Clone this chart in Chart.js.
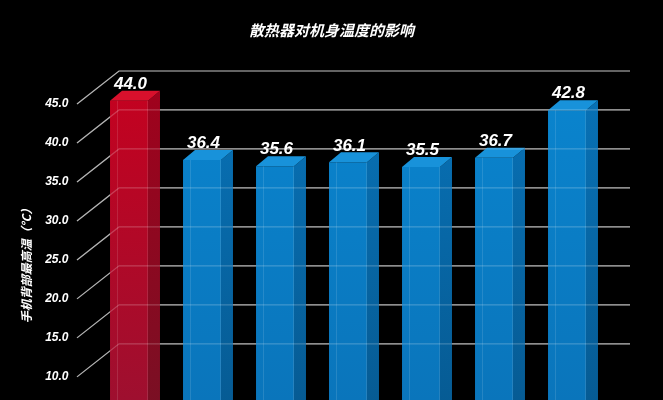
<!DOCTYPE html>
<html>
<head>
<meta charset="utf-8">
<script src="https://cdn.jsdelivr.net/npm/chart.js@4.4.0/dist/chart.umd.min.js"></script>
<style>
  html, body { margin: 0; padding: 0; background: #000; overflow: hidden; }
  #wrap { width: 663px; height: 400px; overflow: hidden; }
  canvas { display: block; }
</style>
</head>
<body>
<div id="wrap"><canvas id="chart" width="663" height="503"></canvas></div>
<script>
// values
const categories = ["无散热器", "散热器A", "散热器B", "散热器C", "散热器D", "散热器E", "散热器F"];
const temps = [44.0, 36.4, 35.6, 36.1, 35.5, 36.7, 42.8];
const barTone = ["red", "blue", "blue", "blue", "blue", "blue", "blue"];
const yTicks = [10, 15, 20, 25, 30, 35, 40, 45];

// 3d look
const DX = 12, DY = 10;        // bar depth
const BACK = 22;               // back wall sits this far above the bar scale
const FRONT = 11;              // tick labels sit this far below it

const tones = {
  red:  { top: "#d8102c", front: ["#c8001e", "#9c1030"], side: ["#a4001c", "#781024"] },
  blue: { top: "#1892da", front: ["#0a86d0", "#0a74ba"], side: ["#0874ba", "#065a92"] }
};

function vGrad(ctx, stops) {
  const g = ctx.createLinearGradient(0, 54, 0, 420);
  g.addColorStop(0, stops[0]);
  g.addColorStop(1, stops[1]);
  return g;
}

function gridPath(ctx, y) {
  yTicks.forEach(v => {
    const py = y.getPixelForValue(v);
    ctx.beginPath();
    ctx.moveTo(77, py + FRONT);
    ctx.lineTo(119, py - BACK);
    ctx.lineTo(630, py - BACK);
    ctx.stroke();
  });
}

const depth3d = {
  id: "depth3d",
  beforeDatasetsDraw(chart) {
    const { ctx, scales: { y } } = chart;
    ctx.save();
    ctx.strokeStyle = "#a0a0a0";
    ctx.lineWidth = 1.2;
    gridPath(ctx, y);
    ctx.restore();
  },
  afterDatasetsDraw(chart) {
    const { ctx, scales: { y } } = chart;
    const meta = chart.getDatasetMeta(0);
    ctx.save();
    meta.data.forEach((bar, i) => {
      const t = tones[barTone[i]];
      const left = bar.x - bar.width / 2, right = bar.x + bar.width / 2;
      const top = bar.y, bottom = bar.base;

      // side face
      ctx.fillStyle = vGrad(ctx, t.side);
      ctx.beginPath();
      ctx.moveTo(right, top);
      ctx.lineTo(right + DX, top - DY);
      ctx.lineTo(right + DX, bottom);
      ctx.lineTo(right, bottom);
      ctx.closePath();
      ctx.fill();

      // top face
      ctx.fillStyle = t.top;
      ctx.beginPath();
      ctx.moveTo(left, top);
      ctx.lineTo(left + DX, top - DY);
      ctx.lineTo(right + DX, top - DY);
      ctx.lineTo(right, top);
      ctx.closePath();
      ctx.fill();

      // faint edges
      ctx.strokeStyle = "rgba(255,255,255,0.12)";
      ctx.lineWidth = 1;
      ctx.beginPath();
      ctx.moveTo(left + 7.5, top);
      ctx.lineTo(left + 7.5, bottom);
      ctx.moveTo(right - 0.5, top);
      ctx.lineTo(right - 0.5, bottom);
      ctx.stroke();
    });

    // grid shows faintly through the bars
    ctx.strokeStyle = "rgba(255,255,255,0.22)";
    ctx.lineWidth = 1.2;
    gridPath(ctx, y);

    // value labels
    ctx.fillStyle = "#fff";
    ctx.font = "italic bold 17px 'Liberation Sans', Arial, sans-serif";
    ctx.textAlign = "center";
    ctx.textBaseline = "middle";
    meta.data.forEach((bar, i) => {
      ctx.fillText(temps[i].toFixed(1), bar.x + 1.5, bar.y - 16.5);
    });
    ctx.restore();
  }
};

const ctx = document.getElementById("chart").getContext("2d");
new Chart(ctx, {
  type: "bar",
  data: {
    labels: categories,
    datasets: [{
      data: temps,
      backgroundColor: (c) => vGrad(c.chart.ctx, tones[barTone[c.dataIndex]].front),
      borderWidth: 0,
      barPercentage: 0.52,
      categoryPercentage: 1
    }]
  },
  options: {
    responsive: false,
    animation: false,
    layout: { padding: 0 },
    plugins: {
      legend: { display: false },
      tooltip: { enabled: false },
      title: {
        display: true,
        text: "散热器对机身温度的影响",
        color: "#fff",
        font: { family: "'Noto Sans CJK SC', sans-serif", size: 15, weight: "bold", style: "italic" },
        padding: { top: 21, bottom: 15 }
      }
    },
    scales: {
      x: { display: false },
      y: {
        min: -3.59,
        max: 50,
        afterBuildTicks: (scale) => { scale.ticks = yTicks.map(v => ({ value: v })); },
        afterFit: (scale) => { scale.width = 92.5; },
        grid: { display: false, drawTicks: false },
        border: { display: false },
        ticks: {
          color: "#fff",
          padding: 24,
          labelOffset: FRONT,
          font: { family: "'Liberation Sans', Arial, sans-serif", size: 12, weight: "bold", style: "italic" },
          callback: (v) => Number(v).toFixed(1)
        },
        title: {
          display: true,
          text: "手机背部最高温（°C）",
          color: "#fff",
          font: { family: "'Noto Sans CJK SC', sans-serif", size: 12, weight: "bold", style: "italic" },
          padding: { top: 19, bottom: 0 }
        }
      },
      // empty strip on the right, keeps the bars where the picture has them
      yRight: {
        position: "right",
        min: 0,
        max: 50,
        afterFit: (scale) => { scale.width = 59.5; },
        grid: { display: false, drawTicks: false },
        border: { display: false },
        ticks: { display: false }
      }
    }
  },
  plugins: [depth3d]
});
</script>
</body>
</html>
